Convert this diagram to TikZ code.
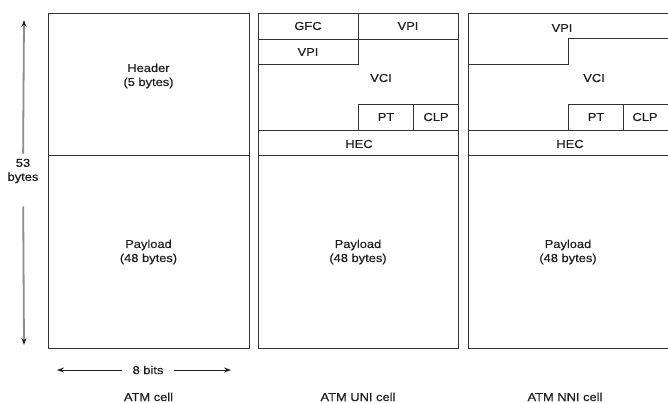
\documentclass[tikz,border=0pt]{standalone}
\usepackage{fontspec}
\setmainfont{Liberation Sans}[FakeStretch=1.12, FakeBold=0.4]
\usepackage{xcolor}
\usetikzlibrary{arrows.meta}
\definecolor{ink}{HTML}{1E1E1E}
\definecolor{rule}{HTML}{333333}
\definecolor{muted}{HTML}{8C8C8C}
\tikzset{
  field/.style   = {inner sep=1pt, align=center, text=ink, font=\fontsize{11.5}{14}\selectfont},
  frame/.style   = {draw=rule, line width=1pt},
  dimline/.style = {-{Stealth[length=7pt, width=5pt]}, draw=ink, line width=0.9pt},
  dimsoft/.style = {-{Stealth[length=7pt, width=5pt, color=ink]}, draw=muted, line width=1.8pt},
}

\begin{document}
\begin{tikzpicture}[x=1pt, y=-1pt]
  \useasboundingbox (0,0) rectangle (668,402);

  % ATM cell
  \draw[frame] (48,13) rectangle (249,348);
  \draw[frame] (48,155) -- (249,155);
  \node[field] (hdr) at (148.5,76) {Header\\(5 bytes)};
  \node[field] (pay) at (148.5,252) {Payload\\(48 bytes)};

  \node[field] (bytes) at (23,171) {53\\bytes};
  \coordinate (bytestop) at (24,20);
  \coordinate (bytesbot) at (24,345);
  \draw[dimsoft, shorten <=4pt] (bytes) -- (bytestop);
  \draw[dimsoft, shorten <=22pt] (bytes) -- (bytesbot);

  \node[field] (bits) at (148,370) {8 bits};
  \coordinate (bitsleft) at (57,370);
  \coordinate (bitsright) at (231,370);
  \draw[dimline, shorten <=9pt] (bits) -- (bitsleft);
  \draw[dimline, shorten <=9pt] (bits) -- (bitsright);

  \node[field, anchor=base] (capcell) at (148.5,401) {ATM cell};

  % ATM UNI cell
  \draw[frame] (258,13) rectangle (458,348);
  \draw[frame] (258,39) -- (458,39);
  \draw[frame] (358,13) -- (358,64) -- (258,64);
  \draw[frame] (358,130) -- (358,104) -- (458,104);
  \draw[frame] (413,104) -- (413,130);
  \draw[frame] (258,130) -- (458,130);
  \draw[frame] (258,155) -- (458,155);
  \node[field] (unigfc) at (308,26) {GFC};
  \node[field] (univpia) at (408,26) {VPI};
  \node[field] (univpib) at (308,52) {VPI};
  \node[field] (univci) at (381,78) {VCI};
  \node[field] (unipt) at (386,117) {PT};
  \node[field] (uniclp) at (436,117) {CLP};
  \node[field] (unihec) at (359,144) {HEC};
  \node[field] (unipay) at (358,252) {Payload\\(48 bytes)};
  \node[field, anchor=base] (capuni) at (358,401) {ATM UNI cell};

  % ATM NNI cell
  \draw[frame] (668,13) -- (468,13) -- (468,348) -- (668,348);
  \draw[frame] (468,64) -- (568,64) -- (568,38) -- (668,38);
  \draw[frame] (568,130) -- (568,104) -- (668,104);
  \draw[frame] (623,104) -- (623,130);
  \draw[frame] (468,130) -- (668,130);
  \draw[frame] (468,155) -- (668,155);
  \node[field] (nnivpi) at (562,28) {VPI};
  \node[field] (nnivci) at (594,78) {VCI};
  \node[field] (nnipt) at (596,117) {PT};
  \node[field] (nniclp) at (645,117) {CLP};
  \node[field] (nnihec) at (570,144) {HEC};
  \node[field] (nnipay) at (568,252) {Payload\\(48 bytes)};
  \node[field, anchor=base] (capnni) at (565,401) {ATM NNI cell};
\end{tikzpicture}
\end{document}
